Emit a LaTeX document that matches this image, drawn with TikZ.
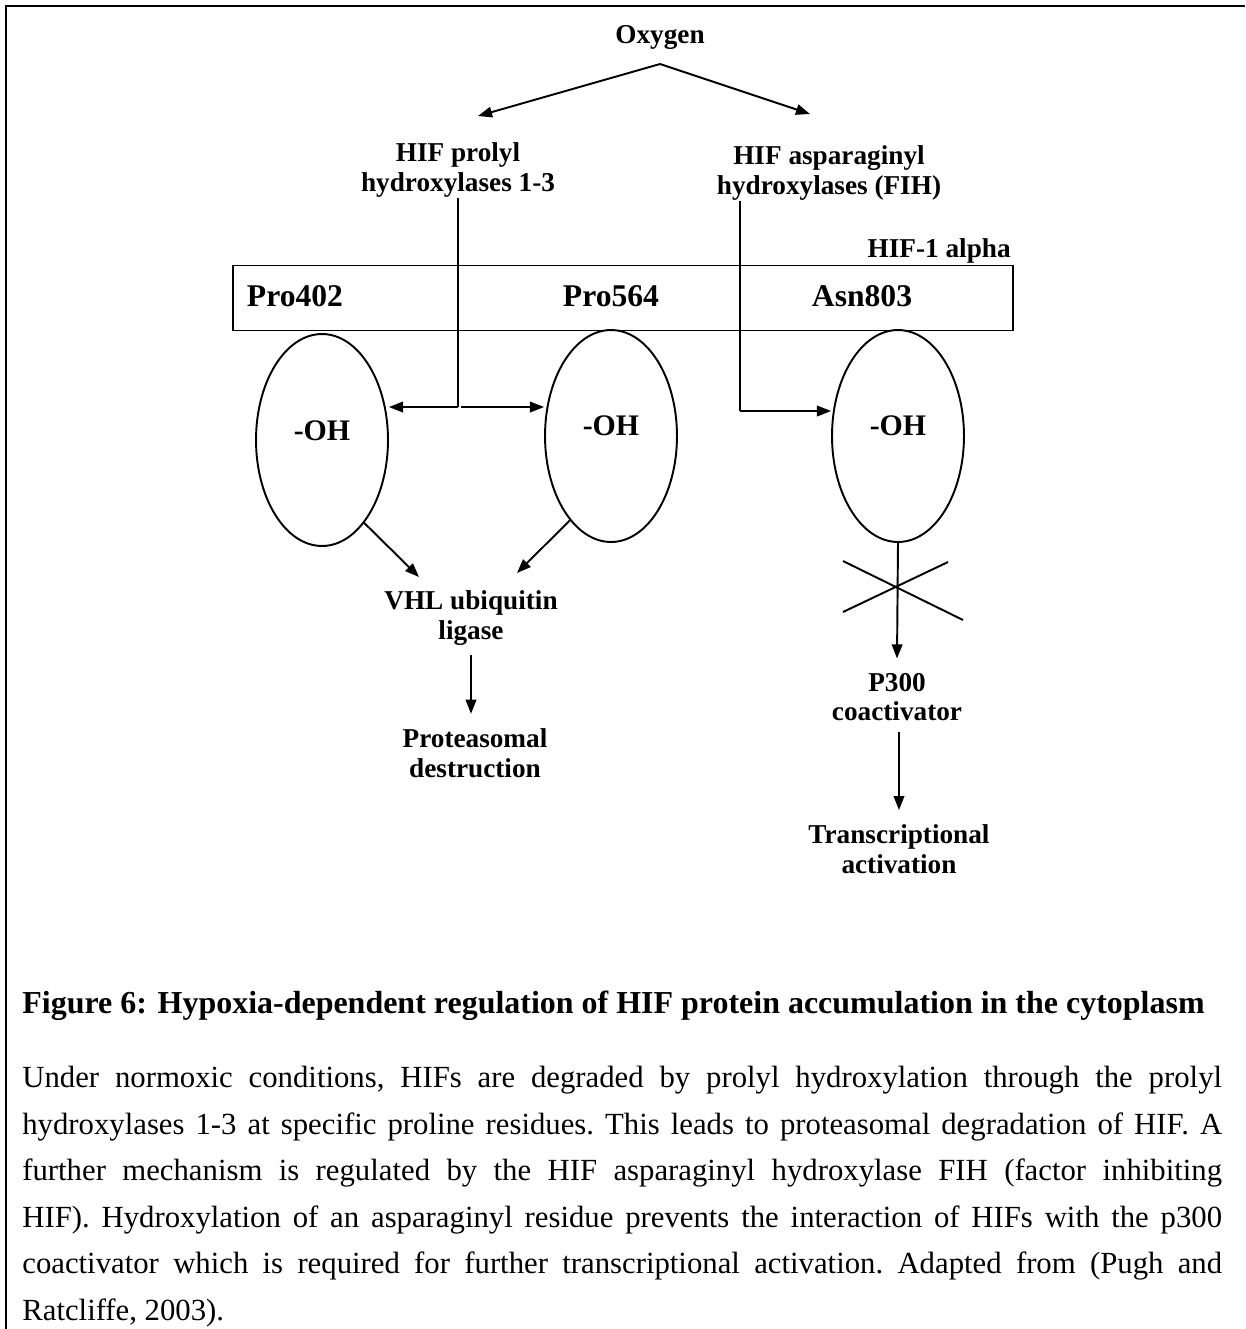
\documentclass[tikz,border=0pt]{standalone}
\usepackage{fontspec}
\setmainfont{Liberation Serif}
\usetikzlibrary{shapes.geometric, arrows.meta, positioning}

\begin{document}
\begin{tikzpicture}[
    x=0.02cm, y=-0.02cm,
    tag/.style={font=\fontsize{15.5}{17}\selectfont\bfseries, align=center, inner sep=0pt},
    residue/.style={font=\fontsize{18}{20}\selectfont\bfseries, inner sep=0pt},
    site/.style={ellipse, draw, line width=1.1pt, minimum width=2.64cm, minimum height=4.24cm, inner sep=0pt},
    ohtag/.style={font=\fontsize{17}{19}\selectfont\bfseries, inner sep=0pt},
    arrow/.style={-{Triangle[length=8pt, width=6pt]}, line width=1.1pt},
    link/.style={line width=1.1pt},
    headline/.style={font=\fontsize{18.2}{20}\selectfont\bfseries, inner sep=0pt},
    caption/.style={font=\fontsize{17.5}{26.5}\selectfont\frenchspacing, inner sep=0pt,
                    text width=24cm, align=justify}
]
\useasboundingbox (0,0) rectangle (1245,1329);
\draw[line width=1.7pt] (6,1329) -- (6,6) -- (1245,6);

% oxygen and the two hydroxylases
\node[tag] (oxygen) at (660,37) {Oxygen};
\coordinate (apex) at (660,64);
\node[tag] (phd) at (458,170) {HIF prolyl\\hydroxylases 1-3};
\node[tag] (fih) at (829,173) {HIF asparaginyl\\hydroxylases (FIH)};
\coordinate (phdtip) at (478,116);
\coordinate (fihtip) at (810,114);
\draw[arrow] (apex) -- (phdtip);
\draw[arrow] (apex) -- (fihtip);

% HIF-1 alpha chain
\node[draw, link, minimum width=15.6cm, minimum height=1.3cm] (hif) at (623,298) {};
\node[tag, anchor=base east] (alpha) at (1011,257) {HIF-1 alpha};
\node[residue] (pro402) at (295,296) {Pro402};
\node[residue] (pro564) at (611,296) {Pro564};
\node[residue] (asn803) at (862,296) {Asn803};

% hydroxylation sites
\node[site] (oh1) at (322,440) {};
\node[site] (oh2) at (611,436) {};
\node[site] (oh3) at (898,436) {};
\node[ohtag] (oh1txt) at ([yshift=5pt]oh1.center) {-OH};
\node[ohtag] (oh2txt) at ([yshift=6pt]oh2.center) {-OH};
\node[ohtag] (oh3txt) at ([yshift=6pt]oh3.center) {-OH};

\coordinate (phdjoin) at (phd.south |- 0,407);
\coordinate (phdsplit) at (461,407);
\draw[link] (phd.south) -- (phdjoin);
\draw[arrow] (phdjoin) -- (phdjoin -| oh1.east);
\draw[arrow] (phdsplit) -- (phdsplit -| oh2.west);

\coordinate (fihdrop) at (fih.south -| 740,0);
\coordinate (fihjoin) at (740,411);
\draw[link] (fihdrop) -- (fihjoin);
\draw[arrow] (fihjoin) -- (fihjoin -| oh3.west);

% proline branch
\node[tag] (vhl) at (471,618) {VHL ubiquitin\\ligase};
\node[tag] (prot) at (475,753) {Proteasomal\\destruction};
\coordinate (vhlin1) at (419,577);
\coordinate (vhlin2) at (517,573);
\draw[arrow] (oh1.-63) -- (vhlin1);
\draw[arrow] (oh2.-116) -- (vhlin2);
\draw[arrow] ([yshift=-5pt]vhl.south) -- ([yshift=-5pt]vhl.south |- 0,705);

% asparagine branch
\node[tag] (p300) at (897,697) {P300\\coactivator};
\node[tag] (trans) at (899,849) {Transcriptional\\activation};
\coordinate (cross) at (897,589);
\draw[link] ([shift={(-54,-28)}]cross) -- ([shift={(66,31)}]cross);
\draw[link] ([shift={(-54,23)}]cross) -- ([shift={(51,-27)}]cross);
\draw[arrow] (oh3.south) -- ([yshift=8pt]p300.north);
\draw[arrow] ([yshift=-6pt]p300.south -| trans.north) -- ([yshift=8pt]trans.north);

% caption
\node[headline, anchor=base west] (title) at (22,1013)
  {Figure 6: Hypoxia-dependent regulation of HIF protein accumulation in the cytoplasm};
\node[caption, anchor=north west] (body) at (22,1066)
  {Under normoxic conditions, HIFs are degraded by prolyl hydroxylation through the prolyl\linebreak
   hydroxylases 1-3 at specific proline residues. This leads to proteasomal degradation of HIF. A\linebreak
   further mechanism is regulated by the HIF asparaginyl hydroxylase FIH (factor inhibiting\linebreak
   HIF). Hydroxylation of an asparaginyl residue prevents the interaction of HIFs with the p300\linebreak
   coactivator which is required for further transcriptional activation. Adapted from (Pugh and\linebreak
   Ratcliffe, 2003).};
\end{tikzpicture}
\end{document}
